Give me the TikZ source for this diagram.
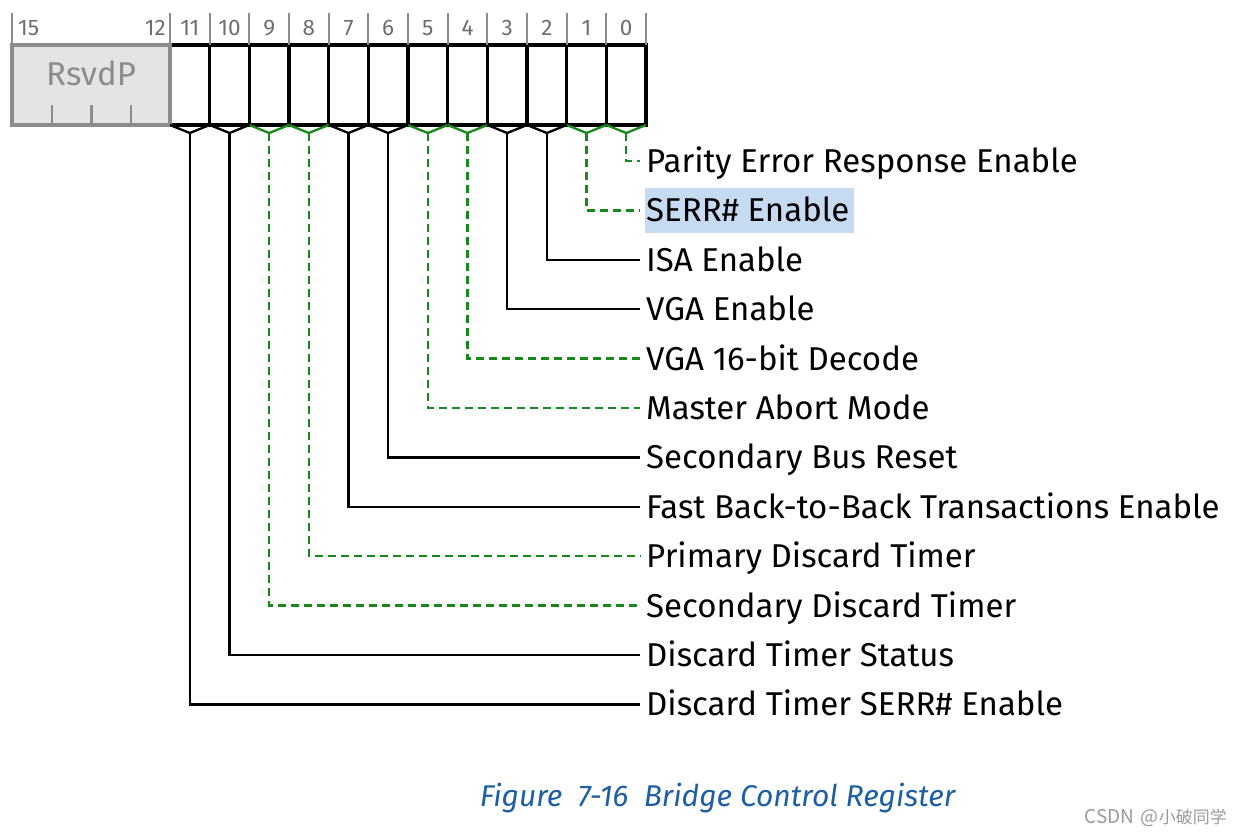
\documentclass[tikz,border=0pt]{standalone}
\usepackage{fontspec}
\setmainfont{Fira Sans}
\newfontfamily\cjk{Noto Sans CJK SC}
\definecolor{rsvdgray}{HTML}{8C8C8C}
\definecolor{rsvdfill}{HTML}{E4E4E4}
\definecolor{numgray}{HTML}{6E6E6E}
\definecolor{markgray}{HTML}{9A9A9A}
\definecolor{fieldgreen}{HTML}{17891A}
\definecolor{capblue}{HTML}{1D5FA3}
\definecolor{selblue}{HTML}{C6DAF1}

\begin{document}
\begin{tikzpicture}[x=1pt, y=-1pt,
    solidbit/.style={black, line width=2.3pt},
    dashbit/.style={fieldgreen, line width=2.3pt, dash pattern=on 8pt off 5pt},
    field/.style={anchor=west, inner sep=0pt, text height=23pt, text depth=0pt,
      font=\fontsize{33}{38}\selectfont},
    bitnum/.style={text=numgray, inner sep=0pt, font=\fontsize{22.5}{26}\selectfont}]
    \useasboundingbox (0,0) rectangle (1242,836);

    \coordinate (rtl) at (170, 45);
    \coordinate (rbr) at (646, 125);

    \draw[line width=3.3pt] (rtl) rectangle (rbr);
    \foreach \i in {1, 2, ..., 11} {
      \draw[line width=3.3pt] (170 + \i*39.667, 45) -- (170 + \i*39.667, 125);
    }
    \filldraw[fill=rsvdfill, draw=rsvdgray, line width=3.3pt]
      (12, 45) rectangle (170, 125);
    \foreach \x in {52, 91.5, 131} {
      \draw[rsvdgray, line width=2.3pt] (\x, 105) -- (\x, 125);
    }
    \node[text=rsvdgray, font=\fontsize{33}{38}\selectfont] (rsvd) at (91, 73) {RsvdP};

    \draw[rsvdgray, line width=2.3pt] (12, 13) -- (12, 45);
    \foreach \i in {0, 1, ..., 12} {
      \draw[rsvdgray, line width=2.3pt] (170 + \i*39.667, 13) -- (170 + \i*39.667, 45);
    }
    \node[bitnum, anchor=west] (n15) at (18, 28) {15};
    \node[bitnum, anchor=east] (n12) at (166, 28) {12};
    \foreach \b in {0, 1, ..., 11} {
      \node[bitnum] (n\b) at (170 + 11.5*39.667 - \b*39.667, 28) {\b};
    }

    \fill[selblue] (645, 188) rectangle (854, 233);

    \foreach \b/\s/\txt in {
        0/dashbit/Parity Error Response Enable,
        1/dashbit/SERR\# Enable,
        2/solidbit/ISA Enable,
        3/solidbit/VGA Enable,
        4/dashbit/VGA 16-bit Decode,
        5/dashbit/Master Abort Mode,
        6/solidbit/Secondary Bus Reset,
        7/solidbit/Fast Back-to-Back Transactions Enable,
        8/dashbit/Primary Discard Timer,
        9/dashbit/Secondary Discard Timer,
        10/solidbit/Discard Timer Status,
        11/solidbit/Discard Timer SERR\# Enable} {
      \coordinate (v\b) at (170 + 11.5*39.667 - \b*39.667, 133);
      \node[field] (l\b) at (646, 161 + \b*49.4) {\txt};
      \draw[\s, solid] (170 + 11*39.667 - \b*39.667, 125) -- (v\b)
        -- (170 + 12*39.667 - \b*39.667, 125);
      \draw[\s] (v\b) |- ([xshift=-6pt]l\b.west);
    }

    \node[anchor=base, text=capblue, font=\fontsize{30}{36}\selectfont\itshape] (caption)
      at (717.5, 806) {Figure\ \ 7-16\ \ Bridge Control Register};
    \node[anchor=east, text=markgray, inner sep=0pt, font=\cjk\fontsize{17}{21}\selectfont]
      (mark) at (1227, 818) {{\fontsize{19}{21}\selectfont CSDN\hspace{0.35em}@}小破同学};
  \end{tikzpicture}
\end{document}
